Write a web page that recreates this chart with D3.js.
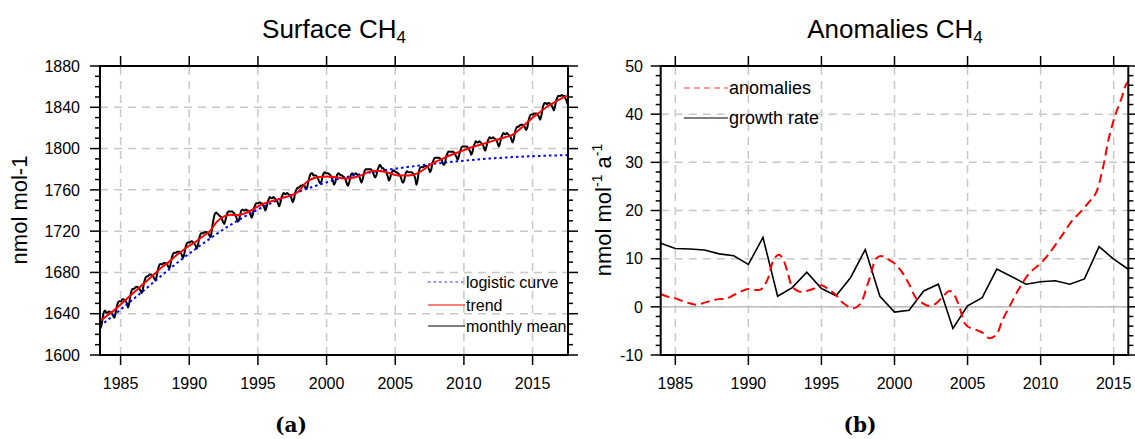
<!DOCTYPE html>
<html>
<head>
<meta charset="utf-8">
<script src="https://cdn.jsdelivr.net/npm/d3@7"></script>
<style>
  html, body { margin: 0; padding: 0; background: #fff; }
  svg { display: block; font-family: "Liberation Sans", Arial, Helvetica, sans-serif; }
</style>
</head>
<body>
<svg id="chart" width="1135" height="439"></svg>
<script>
// ---- Surface CH4 (panel a) ----
// Monthly mean mixing ratio, nmol mol-1, starting July 1983
const monthlyStartYear = 1983;
const monthlyStartMonth = 7;
const monthlyMean = [
  1626,1630,1637,1642,1643,1641,
  1641,1642,1642,1641,1640,1638,1636,1640,1646,1650,1652,1652,
  1652,1654,1654,1653,1652,1650,1646,1650,1657,1662,1664,1664,
  1665,1666,1666,1665,1664,1662,1660,1664,1670,1674,1676,1676,
  1677,1678,1678,1677,1676,1674,1672,1676,1682,1686,1688,1688,
  1688,1689,1689,1689,1688,1686,1684,1687,1693,1697,1699,1699,
  1699,1700,1700,1700,1699,1697,1694,1697,1703,1707,1709,1709,
  1709,1710,1710,1709,1708,1706,1703,1706,1712,1716,1718,1718,
  1718,1719,1719,1719,1718,1716,1714,1719,1727,1733,1737,1738,
  1737,1736,1735,1734,1732,1729,1727,1730,1735,1738,1739,1739,
  1739,1739,1738,1737,1735,1732,1729,1731,1736,1740,1741,1740,
  1740,1741,1740,1740,1738,1736,1733,1736,1742,1745,1747,1747,
  1747,1748,1747,1747,1745,1743,1740,1743,1748,1751,1753,1752,
  1752,1753,1752,1751,1750,1747,1744,1747,1752,1755,1757,1756,
  1756,1757,1756,1755,1754,1751,1748,1751,1757,1760,1762,1762,
  1763,1764,1764,1765,1764,1762,1761,1765,1770,1774,1776,1776,
  1774,1774,1774,1773,1771,1768,1766,1768,1773,1776,1777,1776,
  1776,1776,1775,1774,1772,1769,1765,1767,1772,1775,1776,1775,
  1774,1774,1773,1772,1770,1767,1764,1766,1771,1775,1776,1775,
  1775,1776,1775,1774,1773,1770,1767,1770,1775,1779,1780,1780,
  1780,1780,1780,1779,1777,1774,1772,1774,1779,1782,1784,1783,
  1781,1781,1779,1778,1776,1773,1769,1771,1776,1778,1779,1778,
  1777,1777,1776,1775,1773,1770,1767,1768,1773,1777,1778,1777,
  1777,1777,1777,1776,1774,1771,1765,1769,1777,1781,1782,1782,
  1782,1783,1783,1783,1782,1780,1777,1780,1786,1789,1791,1791,
  1791,1791,1791,1790,1789,1786,1784,1786,1792,1795,1797,1797,
  1797,1797,1797,1796,1794,1792,1789,1792,1797,1800,1802,1802,
  1802,1802,1802,1801,1799,1797,1794,1797,1802,1805,1807,1806,
  1806,1807,1806,1805,1804,1801,1798,1801,1806,1809,1811,1810,
  1810,1811,1810,1809,1808,1805,1802,1805,1810,1813,1815,1814,
  1814,1815,1814,1813,1812,1809,1806,1809,1815,1819,1821,1821,
  1822,1823,1823,1823,1822,1820,1818,1821,1827,1831,1833,1833,
  1833,1834,1834,1834,1833,1831,1828,1831,1837,1842,1844,1844,
  1843,1844,1844,1843,1842,1840,1837,1840,1846,1849,1851,1851,
  1851,1852,1851,1851,1849,1847,1843
];

// Deseasonalised trend
const trendTimes = [1983.5,1984,1984.5,1985,1985.5,1986,1986.5,1987,1987.5,1988,1988.5,1989,1989.5,
  1990,1990.5,1991,1991.5,1992,1992.5,1993,1993.5,1994,1994.5,1995,1995.5,1996,1996.5,1997,1997.5,
  1998,1998.5,1999,1999.5,2000,2000.5,2001,2001.5,2002,2002.5,2003,2003.5,2004,2004.5,2005,2005.5,
  2006,2006.5,2007,2007.5,2008,2008.5,2009,2009.5,2010,2010.5,2011,2011.5,2012,2012.5,2013,2013.5,
  2014,2014.5,2015,2015.5,2016,2016.5,2017,2017.5];
const trendValues = [1633,1638,1643,1649,1655,1661,1667,1673,1679,1685,1690,1696,1701,
  1706,1710,1715,1720,1729,1734,1736,1735.5,1737,1740,1744,1747,1749,1751,1753,1755,
  1759,1767,1771,1772.5,1773,1772.5,1771.5,1771,1772,1774,1777,1778.5,1778,1776.5,1774.5,1774,
  1774,1775.5,1779,1784,1787.5,1790.5,1793.5,1796,1798.5,1801,1803,1805,1807,1809,1811,1813,
  1818,1824,1830,1835,1840,1844,1848,1851];

// Logistic fit
const logisticTimes = [1983.5,1985,1987,1989,1991,1993,1995,1997,1999,2001,2003,2005,2007,2009,2011,2013,2015,2017.6];
const logisticValues = [1628,1644,1666,1688,1708,1726,1741,1753,1763,1771,1776.5,1780.5,1784,1787,1789.5,1791.3,1792.6,1793.7];

const yTicksA = [1600,1640,1680,1720,1760,1800,1840,1880];
const xTicksA = [1985,1990,1995,2000,2005,2010,2015];

// ---- Anomalies CH4 (panel b) ----
const growthYears = [1984,1985,1986,1987,1988,1989,1990,1991,1992,1993,1994,1995,1996,1997,1998,1999,
  2000,2001,2002,2003,2004,2005,2006,2007,2008,2009,2010,2011,2012,2013,2014,2015,2016];
const growthRate = [13.2,12.1,12.0,11.8,11.0,10.6,8.8,14.4,2.2,4.0,7.2,3.8,2.3,6.1,11.9,2.2,
  -1.1,-0.7,3.3,4.7,-4.5,0.2,1.9,7.85,6.3,4.7,5.2,5.4,4.7,5.8,12.5,9.9,7.8];

const anomalyTimes = [1984,1984.5,1985,1985.5,1986,1986.5,1987,1987.5,1988,1988.5,1989,1989.5,1990,1990.5,
  1990.85,1991.3,1991.75,1992.1,1992.4,1992.7,1993,1993.5,1994,1994.5,1995,1995.5,1996,1996.5,1997.2,
  1997.6,1997.85,1998.1,1998.3,1998.75,1999.09,1999.43,2000,2000.57,2001.03,2001.48,2001.94,2002.39,
  2002.85,2003.3,2003.76,2004.1,2004.44,2004.9,2005.6,2006.04,2006.49,2006.95,2007.4,2007.86,2008.54,
  2009.23,2010,2010.59,2011.5,2012.18,2012.64,2013.32,2013.78,2014.23,2014.69,2015.15,2015.49,2015.83,2016];
const anomalyValues = [2.66,2.1,1.76,1.2,0.73,0.45,0.87,1.3,1.6,1.7,2.46,3.2,3.7,3.5,
  3.6,5.6,9.9,10.8,9.7,7.0,4.2,3.15,3.3,3.8,4.5,3.6,2.46,0.73,-0.3,
  0.4,1.76,4.2,5.9,10.07,10.55,10.07,9.03,6.96,4.53,1.76,0.73,0.17,
  0.73,2.1,3.3,2.45,0.0,-3.8,-4.8,-5.4,-6.5,-5.85,-2.7,0.0,3.84,
  6.96,9.03,11.1,15.0,18.0,19.4,21.8,23.6,28.4,35.3,40.2,42.9,46.05,46.8];

const yTicksB = [-10,0,10,20,30,40,50];
const xTicksB = [1985,1990,1995,2000,2005,2010,2015];

// ---- drawing ----
const svg = d3.select("#chart");
const gridColor = "#c8c8c8";

function grid(g, x, y, xTicks, yTicks) {
  const [x0, x1] = x.range();
  const [y0, y1] = y.range(); // y0 bottom, y1 top
  g.append("g").selectAll("line").data(xTicks).join("line")
    .attr("x1", d => x(d)).attr("x2", d => x(d)).attr("y1", y0).attr("y2", y1)
    .attr("stroke", gridColor).attr("stroke-width", 1.5).attr("stroke-dasharray", "8,6");
  g.append("g").selectAll("line").data(yTicks.slice(1, -1)).join("line")
    .attr("x1", x0).attr("x2", x1).attr("y1", d => y(d)).attr("y2", d => y(d))
    .attr("stroke", gridColor).attr("stroke-width", 1.5).attr("stroke-dasharray", "8,6");
}

function axes(g, x, y, xTicks, yTicks, yMinorStep, labelRight) {
  const [x0, x1] = x.range();
  const [y0, y1] = y.range();
  const dom = y.domain();
  const minors = d3.range(dom[0], dom[1] + 1e-9, yMinorStep).filter(v => !yTicks.includes(v));
  const tickG = g.append("g").attr("stroke", "#000").attr("stroke-width", 1.5);
  // y major + minor ticks on both sides, pointing outward
  yTicks.forEach(v => {
    tickG.append("line").attr("x1", x0 - 10).attr("x2", x0).attr("y1", y(v)).attr("y2", y(v));
    tickG.append("line").attr("x1", x1).attr("x2", x1 + 10).attr("y1", y(v)).attr("y2", y(v));
  });
  minors.forEach(v => {
    tickG.append("line").attr("x1", x0 - 5).attr("x2", x0).attr("y1", y(v)).attr("y2", y(v));
    tickG.append("line").attr("x1", x1).attr("x2", x1 + 5).attr("y1", y(v)).attr("y2", y(v));
  });
  xTicks.forEach(v => {
    tickG.append("line").attr("x1", x(v)).attr("x2", x(v)).attr("y1", y0).attr("y2", y0 + 10);
    tickG.append("line").attr("x1", x(v)).attr("x2", x(v)).attr("y1", y1 - 10).attr("y2", y1);
  });
  // frame
  g.append("rect").attr("x", x0).attr("y", y1).attr("width", x1 - x0).attr("height", y0 - y1)
    .attr("fill", "none").attr("stroke", "#000").attr("stroke-width", 2);
  // tick labels
  g.append("g").selectAll("text").data(yTicks).join("text")
    .attr("x", labelRight).attr("y", d => y(d)).attr("dy", "0.36em")
    .attr("text-anchor", "end").attr("font-size", 16).text(d => d);
  g.append("g").selectAll("text").data(xTicks).join("text")
    .attr("x", d => x(d)).attr("y", 389)
    .attr("text-anchor", "middle").attr("font-size", 16).text(d => d);
}

function title(g, cx, main, sub) {
  const t = g.append("text").attr("x", cx).attr("y", 38).attr("text-anchor", "middle").attr("font-size", 26);
  t.append("tspan").text(main);
  t.append("tspan").attr("font-size", 17).attr("dy", 5).text(sub);
}

// ---------- panel a ----------
const xA = d3.scaleLinear().domain([1983.5, 2017.58]).range([100, 568]);
const yA = d3.scaleLinear().domain([1600, 1880]).range([355, 66]);
const gA = svg.append("g");
grid(gA, xA, yA, xTicksA, yTicksA);

svg.append("clipPath").attr("id", "clipA").append("rect")
  .attr("x", 100).attr("y", 66).attr("width", 468).attr("height", 289);
const plotA = gA.append("g").attr("clip-path", "url(#clipA)");

const monthly = monthlyMean.map((v, i) => {
  const m = monthlyStartMonth - 1 + i;
  return [monthlyStartYear + Math.floor(m / 12) + ((m % 12) + 0.5) / 12, v];
});
const trend = trendTimes.map((t, i) => [t, trendValues[i]]);
const logistic = logisticTimes.map((t, i) => [t, logisticValues[i]]);

const lineA = d3.line().x(d => xA(d[0])).y(d => yA(d[1]));
plotA.append("path").datum(monthly)
  .attr("d", lineA.curve(d3.curveCatmullRom.alpha(0.5)))
  .attr("fill", "none").attr("stroke", "#000").attr("stroke-width", 2);
plotA.append("path").datum(logistic)
  .attr("d", lineA.curve(d3.curveMonotoneX))
  .attr("fill", "none").attr("stroke", "#0000ff").attr("stroke-width", 2).attr("stroke-dasharray", "2.5,3");
plotA.append("path").datum(trend)
  .attr("d", lineA.curve(d3.curveMonotoneX))
  .attr("fill", "none").attr("stroke", "#ff0000").attr("stroke-width", 2);

axes(gA, xA, yA, xTicksA, yTicksA, 10, 80);
title(gA, 334, "Surface CH", "4");

gA.append("text").attr("transform", "translate(27,210) rotate(-90)")
  .attr("text-anchor", "middle").attr("font-size", 22).text("nmol mol-1");

// legend a
const legA = [
  { label: "logistic curve", color: "#7070ff", dash: "2.5,3", y: 282 },
  { label: "trend", color: "#ff0000", dash: null, y: 305 },
  { label: "monthly mean", color: "#000", dash: null, y: 326 }
];
legA.forEach(d => {
  gA.append("line").attr("x1", 428).attr("x2", 465).attr("y1", d.y).attr("y2", d.y)
    .attr("stroke", d.color).attr("stroke-width", d.dash ? 1.5 : 1)
    .attr("stroke-dasharray", d.dash);
  gA.append("text").attr("x", 466).attr("y", d.y).attr("dy", "0.35em")
    .attr("font-size", 16).text(d.label);
});

gA.append("text").attr("x", 291).attr("y", 432).attr("text-anchor", "middle")
  .attr("font-family", "'DejaVu Serif', 'Liberation Serif', serif").attr("font-weight", "bold")
  .attr("font-size", 20).text("(a)");

// ---------- panel b ----------
const xB = d3.scaleLinear().domain([1984, 2016]).range([660.7, 1128.3]);
const yB = d3.scaleLinear().domain([-10, 50]).range([355, 66]);
const gB = svg.append("g");
grid(gB, xB, yB, xTicksB, yTicksB);
// zero reference line
gB.append("line").attr("x1", xB(1984)).attr("x2", xB(2016)).attr("y1", yB(0)).attr("y2", yB(0))
  .attr("stroke", "#bdbdbd").attr("stroke-width", 1.5);

svg.append("clipPath").attr("id", "clipB").append("rect")
  .attr("x", 660.7).attr("y", 66).attr("width", 467.6).attr("height", 289);
const plotB = gB.append("g").attr("clip-path", "url(#clipB)");

const growth = growthYears.map((t, i) => [t, growthRate[i]]);
const anomalies = anomalyTimes.map((t, i) => [t, anomalyValues[i]]);
const lineB = d3.line().x(d => xB(d[0])).y(d => yB(d[1]));

plotB.append("path").datum(growth).attr("d", lineB.curve(d3.curveLinear))
  .attr("fill", "none").attr("stroke", "#000").attr("stroke-width", 1.6);
plotB.append("path").datum(anomalies).attr("d", lineB.curve(d3.curveCatmullRom.alpha(0.5)))
  .attr("fill", "none").attr("stroke", "#ff0000").attr("stroke-width", 2).attr("stroke-dasharray", "9,5");

axes(gB, xB, yB, xTicksB, yTicksB, 2, 643);
title(gB, 895, "Anomalies CH", "4");

const yl = gB.append("text").attr("transform", "translate(611,210) rotate(-90)")
  .attr("text-anchor", "middle").attr("font-size", 22);
yl.append("tspan").text("nmol mol");
yl.append("tspan").attr("font-size", 14).attr("dy", -9).text("-1");
yl.append("tspan").attr("dy", 9).text(" a");
yl.append("tspan").attr("font-size", 14).attr("dy", -9).text("-1");

const legB = [
  { label: "anomalies", color: "#ff4040", dash: "6,4", y: 88 },
  { label: "growth rate", color: "#000", dash: null, y: 118 }
];
legB.forEach(d => {
  gB.append("line").attr("x1", 684).attr("x2", 728).attr("y1", d.y).attr("y2", d.y)
    .attr("stroke", d.color).attr("stroke-width", 1.2).attr("stroke-dasharray", d.dash);
  gB.append("text").attr("x", 729).attr("y", d.y).attr("dy", "0.35em")
    .attr("font-size", 18).text(d.label);
});

gB.append("text").attr("x", 860).attr("y", 432).attr("text-anchor", "middle")
  .attr("font-family", "'DejaVu Serif', 'Liberation Serif', serif").attr("font-weight", "bold")
  .attr("font-size", 20).text("(b)");
</script>
</body>
</html>
